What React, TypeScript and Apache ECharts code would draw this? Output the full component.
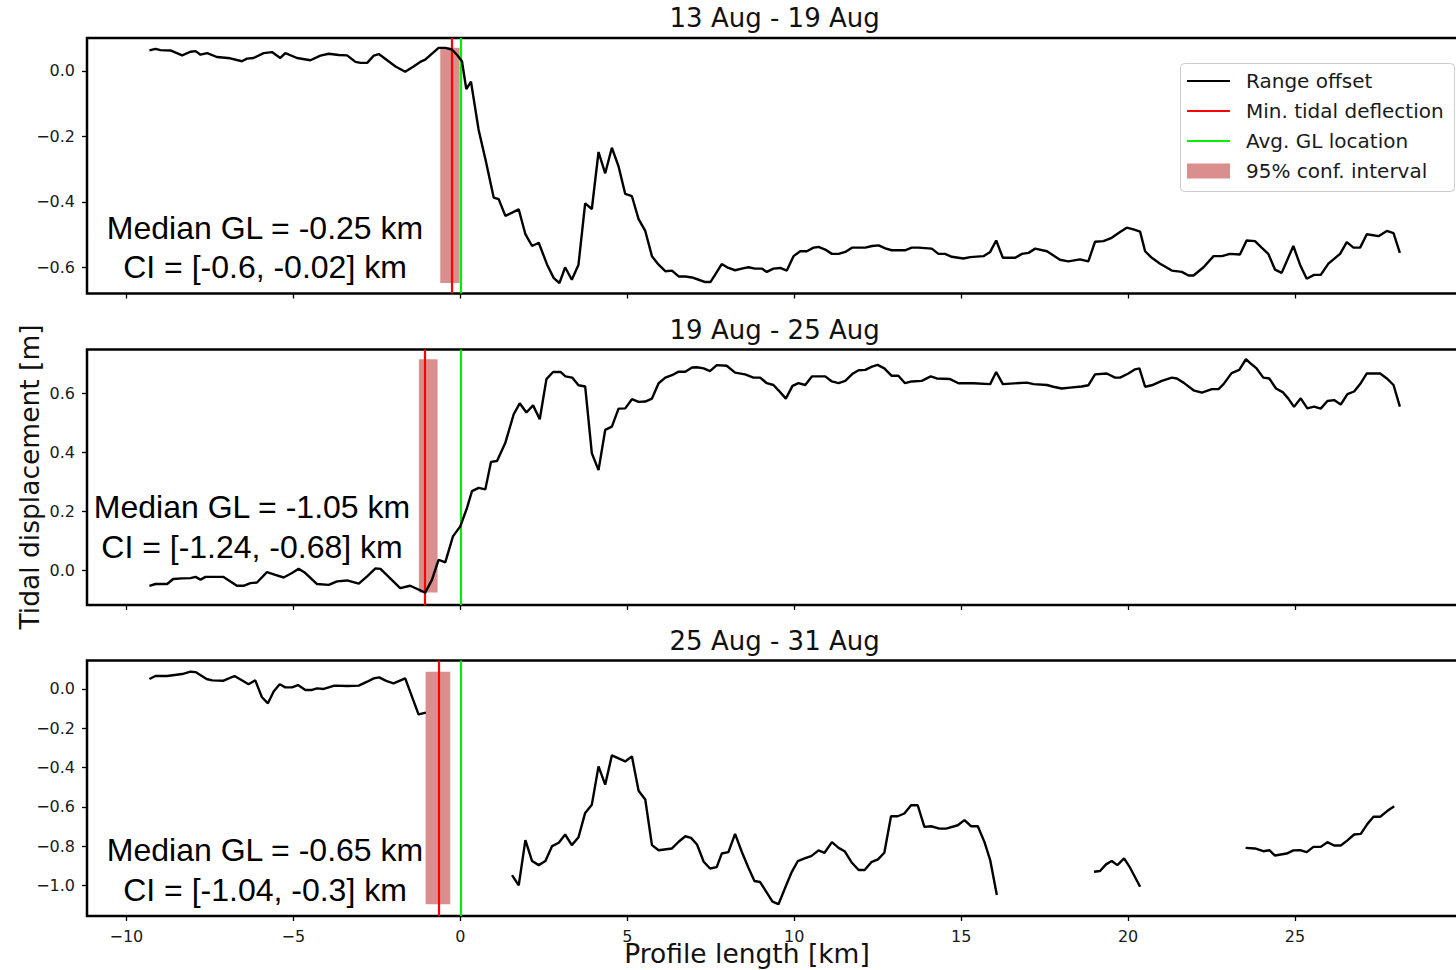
import React, { useEffect, useRef } from "react";
import * as echarts from "echarts";

// ---------------- data ----------------
const panelTitles = ["13 Aug - 19 Aug", "19 Aug - 25 Aug", "25 Aug - 31 Aug"];
const medianGL = [-0.25, -1.05, -0.65];
const ciLow = [-0.6, -1.24, -1.04];
const ciHigh = [-0.02, -0.68, -0.3];
const avgGL = [0, 0, 0];
const xTicks = [-10, -5, 0, 5, 10, 15, 20, 25];
const yTicks1 = [-0.6, -0.4, -0.2, 0.0];
const yTicks2 = [0.0, 0.2, 0.4, 0.6];
const yTicks3 = [-1.0, -0.8, -0.6, -0.4, -0.2, 0.0];
const legendLabels = ["Range offset", "Min. tidal deflection", "Avg. GL location", "95% conf. interval"];

const offset1: number[][] = [
  [-9.31, 0.062], [-9.13, 0.067], [-8.98, 0.063], [-8.68, 0.062], [-8.33, 0.047], [-8.08, 0.058], [-7.93, 0.06], [-7.78, 0.049], [-7.58, 0.054], [-7.29, 0.042], [-6.89, 0.038], [-6.54, 0.029], [-6.39, 0.037], [-6.19, 0.039], [-5.89, 0.054], [-5.64, 0.057], [-5.39, 0.039], [-5.24, 0.054], [-4.89, 0.039], [-4.49, 0.032], [-4.19, 0.046], [-3.94, 0.052], [-3.64, 0.048], [-3.39, 0.047], [-3.14, 0.027], [-2.99, 0.024], [-2.79, 0.024], [-2.59, 0.046], [-2.44, 0.051], [-1.94, 0.013], [-1.65, -0.003], [-1.4, 0.013], [-1.2, 0.027], [-1.05, 0.034], [-0.65, 0.07], [-0.45, 0.07], [-0.25, 0.065], [-0.1, 0.049], [0.05, 0.029], [0.18, -0.056], [0.32, -0.033], [0.55, -0.181], [0.75, -0.269], [1.0, -0.387], [1.15, -0.392], [1.35, -0.443], [1.75, -0.423], [1.95, -0.499], [2.15, -0.535], [2.35, -0.525], [2.6, -0.592], [2.8, -0.633], [2.97, -0.648], [3.14, -0.6], [3.34, -0.638], [3.54, -0.592], [3.74, -0.405], [3.94, -0.422], [4.14, -0.248], [4.34, -0.313], [4.54, -0.235], [4.74, -0.292], [4.94, -0.376], [5.14, -0.383], [5.34, -0.453], [5.54, -0.489], [5.74, -0.566], [5.94, -0.592], [6.14, -0.612], [6.34, -0.61], [6.54, -0.628], [6.74, -0.628], [6.94, -0.631], [7.14, -0.638], [7.34, -0.645], [7.49, -0.645], [7.63, -0.623], [7.83, -0.59], [8.03, -0.602], [8.23, -0.609], [8.43, -0.604], [8.63, -0.6], [8.83, -0.604], [9.03, -0.604], [9.18, -0.614], [9.38, -0.604], [9.58, -0.602], [9.78, -0.61], [9.98, -0.566], [10.18, -0.551], [10.38, -0.551], [10.58, -0.54], [10.73, -0.538], [10.93, -0.546], [11.13, -0.559], [11.33, -0.559], [11.53, -0.553], [11.73, -0.54], [12.13, -0.54], [12.33, -0.535], [12.53, -0.533], [12.73, -0.542], [12.92, -0.548], [13.32, -0.548], [13.52, -0.54], [13.72, -0.54], [14.12, -0.543], [14.32, -0.559], [14.52, -0.559], [14.72, -0.568], [15.07, -0.573], [15.27, -0.569], [15.67, -0.566], [15.87, -0.553], [16.05, -0.518], [16.25, -0.571], [16.62, -0.571], [16.82, -0.559], [17.02, -0.556], [17.22, -0.543], [17.57, -0.551], [17.72, -0.561], [17.96, -0.577], [18.21, -0.582], [18.56, -0.576], [18.81, -0.582], [19.01, -0.522], [19.26, -0.52], [19.51, -0.51], [19.76, -0.492], [19.96, -0.479], [20.16, -0.484], [20.36, -0.491], [20.51, -0.551], [20.71, -0.571], [20.96, -0.589], [21.31, -0.61], [21.61, -0.614], [21.81, -0.625], [21.96, -0.625], [22.26, -0.6], [22.56, -0.566], [22.81, -0.566], [23.05, -0.559], [23.35, -0.561], [23.55, -0.518], [23.8, -0.52], [24.0, -0.54], [24.2, -0.559], [24.4, -0.607], [24.6, -0.617], [24.95, -0.535], [25.15, -0.592], [25.35, -0.635], [25.57, -0.623], [25.77, -0.623], [26.0, -0.589], [26.35, -0.559], [26.55, -0.523], [26.75, -0.54], [26.95, -0.54], [27.15, -0.499], [27.5, -0.505], [27.75, -0.489], [27.95, -0.496], [28.14, -0.556],
];

const offset2: number[][] = [
  [-9.31, -0.051], [-9.13, -0.045], [-8.78, -0.045], [-8.6, -0.028], [-8.33, -0.026], [-8.08, -0.025], [-7.93, -0.021], [-7.78, -0.03], [-7.63, -0.021], [-7.09, -0.021], [-6.69, -0.051], [-6.49, -0.051], [-6.29, -0.042], [-6.09, -0.04], [-5.79, -0.005], [-5.54, -0.014], [-5.29, -0.023], [-5.04, -0.008], [-4.84, 0.007], [-4.64, -0.008], [-4.29, -0.045], [-3.94, -0.048], [-3.69, -0.036], [-3.39, -0.033], [-3.04, -0.044], [-2.79, -0.019], [-2.54, 0.008], [-2.39, 0.006], [-1.8, -0.059], [-1.5, -0.051], [-1.05, -0.074], [-0.85, -0.031], [-0.65, 0.037], [-0.45, 0.028], [-0.22, 0.116], [0.0, 0.15], [0.2, 0.212], [0.35, 0.269], [0.55, 0.28], [0.75, 0.275], [0.92, 0.368], [1.1, 0.371], [1.35, 0.433], [1.6, 0.529], [1.78, 0.566], [1.98, 0.535], [2.18, 0.559], [2.38, 0.512], [2.58, 0.648], [2.78, 0.672], [3.0, 0.672], [3.15, 0.657], [3.35, 0.653], [3.54, 0.627], [3.74, 0.623], [3.94, 0.397], [4.14, 0.34], [4.34, 0.476], [4.54, 0.487], [4.74, 0.548], [4.94, 0.549], [5.14, 0.58], [5.34, 0.571], [5.54, 0.572], [5.74, 0.582], [5.94, 0.634], [6.14, 0.653], [6.34, 0.661], [6.54, 0.673], [6.74, 0.673], [6.94, 0.687], [7.09, 0.688], [7.29, 0.684], [7.48, 0.675], [7.68, 0.695], [7.98, 0.693], [8.23, 0.67], [8.53, 0.664], [8.78, 0.653], [8.98, 0.653], [9.18, 0.634], [9.38, 0.628], [9.53, 0.61], [9.75, 0.582], [9.95, 0.625], [10.13, 0.634], [10.33, 0.628], [10.53, 0.657], [10.93, 0.657], [11.13, 0.64], [11.33, 0.634], [11.53, 0.642], [11.76, 0.667], [11.93, 0.678], [12.13, 0.679], [12.33, 0.69], [12.5, 0.696], [12.7, 0.684], [12.92, 0.659], [13.12, 0.659], [13.32, 0.634], [13.52, 0.64], [13.82, 0.642], [14.09, 0.657], [14.27, 0.65], [14.67, 0.648], [14.92, 0.634], [15.37, 0.634], [15.87, 0.631], [16.05, 0.672], [16.25, 0.631], [16.97, 0.636], [17.17, 0.631], [17.57, 0.628], [17.76, 0.622], [18.01, 0.616], [18.26, 0.619], [18.61, 0.623], [18.81, 0.627], [19.01, 0.664], [19.36, 0.667], [19.61, 0.653], [19.76, 0.653], [20.01, 0.667], [20.21, 0.681], [20.34, 0.684], [20.51, 0.622], [20.71, 0.627], [21.01, 0.642], [21.31, 0.653], [21.46, 0.65], [21.66, 0.636], [21.96, 0.61], [22.21, 0.602], [22.51, 0.614], [22.71, 0.614], [22.86, 0.631], [23.1, 0.668], [23.33, 0.679], [23.53, 0.715], [23.7, 0.698], [23.85, 0.684], [24.05, 0.653], [24.23, 0.65], [24.43, 0.616], [24.63, 0.604], [24.8, 0.582], [24.97, 0.554], [25.17, 0.583], [25.37, 0.549], [25.57, 0.555], [25.77, 0.548], [25.97, 0.574], [26.17, 0.577], [26.37, 0.562], [26.57, 0.597], [26.77, 0.606], [26.95, 0.631], [27.15, 0.667], [27.55, 0.667], [27.75, 0.65], [27.95, 0.628], [28.14, 0.555],
];

const offset3a: number[][] = [
  [-9.31, 0.051], [-9.13, 0.066], [-8.78, 0.066], [-8.33, 0.076], [-8.08, 0.088], [-7.93, 0.086], [-7.6, 0.051], [-7.43, 0.044], [-7.09, 0.042], [-6.76, 0.066], [-6.34, 0.024], [-6.14, 0.044], [-5.94, -0.042], [-5.76, -0.073], [-5.59, -0.013], [-5.41, 0.024], [-5.24, 0.008], [-5.04, 0.008], [-4.86, 0.02], [-4.64, -0.005], [-4.44, -0.005], [-4.29, 0.003], [-4.09, 0.0], [-3.77, 0.017], [-3.39, 0.015], [-3.04, 0.017], [-2.79, 0.037], [-2.59, 0.054], [-2.43, 0.059], [-2.22, 0.041], [-2.0, 0.029], [-1.65, 0.054], [-1.25, -0.129], [-1.03, -0.12],
];
const offset3b: number[][] = [
  [1.55, -0.948], [1.75, -1.0], [1.95, -0.77], [2.15, -0.876], [2.35, -0.897], [2.55, -0.876], [2.75, -0.8], [2.95, -0.783], [3.14, -0.741], [3.34, -0.795], [3.54, -0.755], [3.74, -0.631], [3.94, -0.589], [4.14, -0.394], [4.34, -0.487], [4.54, -0.338], [4.94, -0.369], [5.14, -0.343], [5.34, -0.518], [5.54, -0.563], [5.74, -0.795], [5.94, -0.821], [6.34, -0.812], [6.54, -0.778], [6.74, -0.75], [6.91, -0.758], [7.09, -0.792], [7.29, -0.88], [7.48, -0.914], [7.68, -0.907], [7.83, -0.838], [8.03, -0.831], [8.23, -0.738], [8.43, -0.829], [8.63, -0.91], [8.81, -0.978], [8.98, -0.983], [9.35, -1.083], [9.53, -1.096], [9.73, -1.012], [9.93, -0.931], [10.11, -0.876], [10.31, -0.863], [10.51, -0.851], [10.73, -0.822], [10.91, -0.834], [11.13, -0.78], [11.33, -0.809], [11.51, -0.826], [11.73, -0.885], [11.93, -0.922], [12.11, -0.922], [12.31, -0.882], [12.51, -0.868], [12.7, -0.834], [12.9, -0.648], [13.1, -0.648], [13.3, -0.634], [13.5, -0.592], [13.7, -0.592], [13.9, -0.702], [14.1, -0.699], [14.35, -0.711], [14.55, -0.711], [14.9, -0.694], [15.1, -0.668], [15.3, -0.699], [15.5, -0.699], [15.7, -0.78], [15.87, -0.871], [16.07, -1.049],
];
const offset3c: number[][] = [
  [18.98, -0.931], [19.16, -0.927], [19.34, -0.893], [19.51, -0.876], [19.68, -0.897], [19.88, -0.863], [20.06, -0.91], [20.36, -1.007],
];
const offset3d: number[][] = [
  [23.52, -0.809], [23.8, -0.812], [24.05, -0.826], [24.23, -0.821], [24.4, -0.848], [24.75, -0.838], [24.95, -0.822], [25.15, -0.821], [25.35, -0.831], [25.55, -0.804], [25.77, -0.804], [25.97, -0.78], [26.17, -0.797], [26.37, -0.797], [26.57, -0.771], [26.77, -0.741], [26.97, -0.738], [27.17, -0.687], [27.35, -0.651], [27.55, -0.651], [27.75, -0.623], [27.97, -0.597],
];

const panelSegments: number[][][][] = [[offset1], [offset2], [offset3a, offset3b, offset3c, offset3d]];
const panelYTicks = [yTicks1, yTicks2, yTicks3];
const panelYRange = [[-0.68, 0.1], [-0.116, 0.748], [-1.156, 0.145]];
const medianLines = [
  ["Median GL = -0.25 km", "CI = [-0.6, -0.02] km"],
  ["Median GL = -1.05 km", "CI = [-1.24, -0.68] km"],
  ["Median GL = -0.65 km", "CI = [-1.04, -0.3] km"],
];

// ---------------- layout / style ----------------
const GRID_LEFT = 87;
const GRID_WIDTH = 1375.3;
const GRID_TOPS = [38, 349.5, 660.5];
const GRID_H = 255.5;
const X_MIN = -11.18;
const X_MAX = 30.01;
const FONT = "DejaVu Sans";
const ANNOT_FONT = "Liberation Sans";
const CI_COLOR = "rgba(193, 66, 66, 0.6)";

const minusFmt = (v: number, digits: number) => {
  const s = Math.abs(v).toFixed(digits);
  return v < -1e-9 ? "\u2212" + s : s;
};

export default function App() {
  const ref = useRef<HTMLDivElement | null>(null);

  useEffect(() => {
    if (!ref.current) return;
    const chart = echarts.init(ref.current, undefined, { renderer: "svg" });

    const grids = GRID_TOPS.map((top) => ({
      left: GRID_LEFT,
      top,
      width: GRID_WIDTH,
      height: GRID_H,
      show: true,
      borderColor: "#000",
      borderWidth: 2.5,
      backgroundColor: "transparent",
      containLabel: false,
    }));

    const xAxes = GRID_TOPS.map((_, i) => ({
      type: "value",
      gridIndex: i,
      position: "bottom",
      min: X_MIN,
      max: X_MAX,
      axisLine: { show: false, onZero: false },
      splitLine: { show: false },
      axisTick: {
        show: true,
        inside: false,
        customValues: xTicks,
        length: 5,
        lineStyle: { color: "#000", width: 1.3 },
      },
      axisLabel: {
        show: i === 2,
        customValues: xTicks,
        formatter: (v: number) => minusFmt(v, 0),
        margin: 12,
        fontSize: 16,
        fontFamily: FONT,
        color: "#1a1a1a",
      },
    }));

    const yAxes = GRID_TOPS.map((_, i) => ({
      type: "value",
      gridIndex: i,
      position: "left",
      min: panelYRange[i][0],
      max: panelYRange[i][1],
      axisLine: { show: false, onZero: false },
      splitLine: { show: false },
      axisTick: {
        show: true,
        inside: false,
        customValues: panelYTicks[i],
        length: 5,
        lineStyle: { color: "#000", width: 1.3 },
      },
      axisLabel: {
        show: true,
        customValues: panelYTicks[i],
        formatter: (v: number) => minusFmt(v, 1),
        margin: 12,
        fontSize: 16,
        fontFamily: FONT,
        color: "#1a1a1a",
      },
    }));

    const series: any[] = [];
    panelSegments.forEach((segs, i) => {
      const all = segs.flat();
      const yMin = Math.min(...all.map((p) => p[1]));
      const yMax = Math.max(...all.map((p) => p[1]));
      // markers (CI band, min deflection, avg GL)
      series.push({
        type: "line",
        name: "markers" + i,
        xAxisIndex: i,
        yAxisIndex: i,
        data: [],
        z: 2,
        silent: true,
        markArea: {
          silent: true,
          itemStyle: { color: CI_COLOR },
          data: [[{ xAxis: ciLow[i], yAxis: yMin }, { xAxis: ciHigh[i], yAxis: yMax }]],
        },
        markLine: {
          silent: true,
          symbol: ["none", "none"],
          label: { show: false },
          lineStyle: { width: 2, type: "solid" },
          data: [
            { xAxis: medianGL[i], lineStyle: { color: "#ff0000", width: 2.2, type: "solid" } },
            { xAxis: avgGL[i], lineStyle: { color: "#00ee00", width: 2.2, type: "solid" } },
          ],
        },
      });
      segs.forEach((seg, k) => {
        series.push({
          type: "line",
          name: "Range offset",
          id: `offset-${i}-${k}`,
          xAxisIndex: i,
          yAxisIndex: i,
          data: seg,
          showSymbol: false,
          symbol: "none",
          z: 5,
          lineStyle: { color: "#000", width: 2.4 },
          silent: true,
        });
      });
    });

    const graphic: any[] = [];
    // titles
    panelTitles.forEach((t, i) => {
      graphic.push({
        type: "text",
        x: GRID_LEFT + GRID_WIDTH / 2,
        y: GRID_TOPS[i] - 20,
        style: {
          text: t,
          fontSize: 26,
          fontFamily: FONT,
          fill: "#111",
          align: "center",
          verticalAlign: "middle",
        },
      });
    });
    // median/CI annotations
    const annotCenters = [
      [265, 228, 267],
      [252, 507, 547],
      [265, 849.5, 889.5],
    ];
    medianLines.forEach((lines, i) => {
      lines.forEach((line, j) => {
        graphic.push({
          type: "text",
          x: annotCenters[i][0],
          y: annotCenters[i][1 + j],
          z: 50,
          style: {
            text: line,
            fontSize: 32,
            fontFamily: ANNOT_FONT,
            fill: "#000",
            align: "center",
            verticalAlign: "middle",
          },
        });
      });
    });
    // axis labels
    graphic.push({
      type: "text",
      x: 29,
      y: 477,
      rotation: Math.PI / 2,
      style: {
        text: "Tidal displacement [m]",
        fontSize: 26.5,
        fontFamily: FONT,
        fill: "#111",
        align: "center",
        verticalAlign: "middle",
      },
    });
    graphic.push({
      type: "text",
      x: 747,
      y: 953,
      style: {
        text: "Profile length [km]",
        fontSize: 26.5,
        fontFamily: FONT,
        fill: "#111",
        align: "center",
        verticalAlign: "middle",
      },
    });
    // legend
    const LX = 1180.5;
    const LY = 63.5;
    const rowY = [81, 111, 141, 171];
    const legendChildren: any[] = [
      {
        type: "rect",
        shape: { x: LX, y: LY, width: 274, height: 128, r: 4 },
        style: { fill: "rgba(255,255,255,0.85)", stroke: "#cccccc", lineWidth: 1 },
      },
      { type: "line", shape: { x1: 1187, y1: rowY[0], x2: 1230, y2: rowY[0] }, style: { stroke: "#000", lineWidth: 2.2 } },
      { type: "line", shape: { x1: 1187, y1: rowY[1], x2: 1230, y2: rowY[1] }, style: { stroke: "#ff0000", lineWidth: 2.2 } },
      { type: "line", shape: { x1: 1187, y1: rowY[2], x2: 1230, y2: rowY[2] }, style: { stroke: "#00ee00", lineWidth: 2.2 } },
      { type: "rect", shape: { x: 1187, y: rowY[3] - 7.5, width: 43, height: 15 }, style: { fill: CI_COLOR } },
    ];
    legendLabels.forEach((lab, k) => {
      legendChildren.push({
        type: "text",
        x: 1246,
        y: rowY[k],
        style: {
          text: lab,
          fontSize: 20,
          fontFamily: FONT,
          fill: "#1a1a1a",
          align: "left",
          verticalAlign: "middle",
        },
      });
    });
    graphic.push({ type: "group", z: 60, children: legendChildren });

    chart.setOption({
      animation: false,
      backgroundColor: "#fff",
      grid: grids,
      xAxis: xAxes,
      yAxis: yAxes,
      series,
      graphic,
    });

    return () => {
      chart.dispose();
    };
  }, []);

  return (
    <div
      ref={ref}
      style={{ position: "fixed", left: 0, top: 0, width: 1470, height: 970, background: "#fff" }}
    />
  );
}
